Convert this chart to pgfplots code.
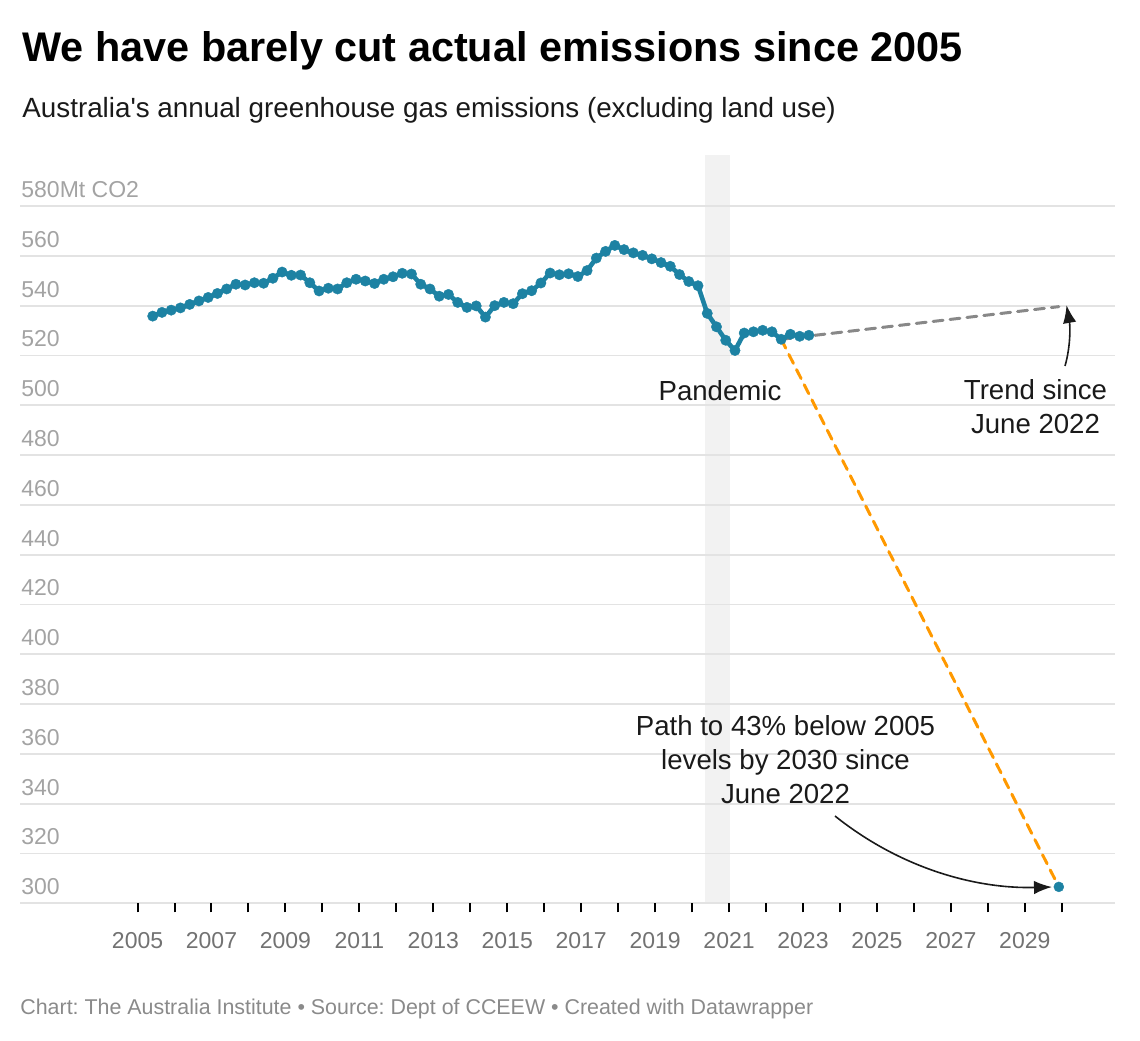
\documentclass[border=0pt]{standalone}
\usepackage{pgfplots}
\pgfplotsset{compat=1.18}
\usepackage{fontspec}
\setmainfont{Liberation Sans}[Ligatures=TeXOff]
\usetikzlibrary{arrows.meta}
\frenchspacing

\definecolor{lineblue}{HTML}{1D82A3}
\definecolor{pathorange}{HTML}{FF9900}
\definecolor{trendgray}{HTML}{888888}
\definecolor{gridgray}{HTML}{E3E3E3}
\definecolor{bandgray}{HTML}{F2F2F2}
\definecolor{ylab}{HTML}{A3A3A3}
\definecolor{xlab}{HTML}{727272}
\definecolor{foot}{HTML}{8A8A8A}
\definecolor{txt}{HTML}{1A1A1A}

\begin{document}
\begin{tikzpicture}
\begin{axis}[
    scale only axis,
    width=547.5pt, height=374.15pt,
    xmin=2001.82, xmax=2031.44,
    ymin=300, ymax=600.5,
    clip=false,
    set layers,
    axis line style={draw=none},
    ymajorgrids,
    grid style={color=gridgray, line width=0.9pt},
    ytick={300,320,...,580},
    yticklabels={300,320,340,360,380,400,420,440,460,480,500,520,540,560,580Mt CO2},
    xtick={2005,2006,...,2030},
    xticklabels={2005,,2007,,2009,,2011,,2013,,2015,,2017,,2019,,2021,,2023,,2025,,2027,,2029,},
    tick pos=left,
    tick align=outside,
    major tick length=4.5pt,
    xtick style={color=black, line width=1pt},
    ytick style={draw=none},
    xticklabel style={font=\fontsize{11.5pt}{13pt}\selectfont, text=xlab, anchor=north, inner sep=0pt, yshift=-10pt},
    yticklabel style={font=\fontsize{11.5pt}{13pt}\selectfont, text=ylab, anchor=base west, inner sep=0pt, xshift=5pt, yshift=4.3pt},
]
% pandemic band
\addplot [fill=bandgray, draw=none, on layer=axis background]
    coordinates {(2020.35,300) (2020.35,600.5) (2021.03,600.5) (2021.03,300)} -- cycle;

% trend since June 2022
\addplot [trendgray, line width=1.5pt, dash pattern=on 5pt off 3.5pt, line cap=round]
    coordinates {(2022.41,526.5) (2029.92,539.6)};
% path to 43% below 2005 levels
\addplot [pathorange, line width=1.5pt, dash pattern=on 5pt off 3.5pt, line cap=round]
    coordinates {(2022.41,526.5) (2029.92,306.6)};

% actual emissions, quarterly
\addplot [lineblue, line width=2.3pt, line join=round, mark=*, mark size=2.6pt, mark options={solid, fill=lineblue, draw=lineblue, line width=0.2pt}]
    coordinates {
    (2005.41,535.8) (2005.66,537.3) (2005.91,538.2) (2006.16,539.1)
    (2006.41,540.5) (2006.66,541.9) (2006.91,543.3) (2007.16,544.9)
    (2007.41,546.7) (2007.66,548.6) (2007.91,548.3) (2008.16,549.2)
    (2008.41,549.0) (2008.66,551.0) (2008.91,553.5) (2009.16,552.2)
    (2009.41,552.3) (2009.66,549.2) (2009.91,545.9) (2010.16,547.0)
    (2010.41,546.7) (2010.66,549.2) (2010.91,550.6) (2011.16,549.9)
    (2011.41,548.9) (2011.66,550.6) (2011.91,551.6) (2012.16,553.0)
    (2012.41,552.7) (2012.66,548.6) (2012.91,546.7) (2013.16,543.8)
    (2013.41,544.5) (2013.66,541.3) (2013.91,539.3) (2014.16,539.9)
    (2014.41,535.4) (2014.66,540.0) (2014.91,541.3) (2015.16,540.8)
    (2015.41,544.8) (2015.66,546.0) (2015.91,549.1) (2016.16,553.1)
    (2016.41,552.4) (2016.66,552.8) (2016.91,551.7) (2017.16,554.1)
    (2017.41,559.1) (2017.66,561.8) (2017.91,564.2) (2018.16,562.5)
    (2018.41,561.2) (2018.66,560.2) (2018.91,558.8) (2019.16,557.3)
    (2019.41,555.8) (2019.66,552.5) (2019.91,549.7) (2020.16,548.0)
    (2020.41,536.9) (2020.66,531.5) (2020.91,526.1) (2021.16,522.0)
    (2021.41,529.0) (2021.66,529.5) (2021.91,530.1) (2022.16,529.5)
    (2022.41,526.5) (2022.66,528.5) (2022.91,527.7) (2023.16,528.1)
    };

% 2030 target point
\addplot [only marks, mark=*, mark size=2.5pt, mark options={fill=lineblue, draw=lineblue, line width=0.2pt}]
    coordinates {(2029.92,306.6)};
\end{axis}

% annotations, in pixel units of the 1140x1040 canvas
\begin{scope}[x=0.5pt, y=-0.5pt, shift={(-10pt,451.65pt)}]
\path (0,0) rectangle (1140,1040);
\node [anchor=base west, inner sep=0pt, font=\fontsize{20.7pt}{24pt}\selectfont\bfseries]
    at (22,62) {We have barely cut actual emissions since 2005};
\node [anchor=base west, inner sep=0pt, text=txt, font=\fontsize{13.9pt}{16pt}\selectfont]
    at (22,118) {Australia's annual greenhouse gas emissions (excluding land use)};
\node [anchor=base west, inner sep=0pt, text=foot, font=\fontsize{10.7pt}{13pt}\selectfont]
    at (20,1014) {Chart: The Australia Institute • Source: Dept of CCEEW • Created with Datawrapper};

\node [anchor=base, inner sep=0pt, text=txt, font=\fontsize{13.8pt}{17pt}\selectfont]
    at (720,400) {Pandemic};
\node [align=center, inner sep=0pt, text=txt, font=\fontsize{13.8pt}{17pt}\selectfont]
    at (1035.5,407) {Trend since\\June 2022};
\node [align=center, inner sep=0pt, text=txt, font=\fontsize{13.8pt}{17pt}\selectfont]
    at (785.5,760) {Path to 43\% below 2005\\levels by 2030 since\\June 2022};

\draw [txt, line width=0.8pt, -{Latex[length=9pt, width=6.7pt]}]
    (1065,366) .. controls (1071,345) and (1070,325) .. (1066.5,305);
\draw [txt, line width=0.8pt, -{Latex[length=9pt, width=6.7pt]}]
    (835,816) .. controls (900,868) and (975,889) .. (1052,887);
\end{scope}
\end{tikzpicture}
\end{document}
